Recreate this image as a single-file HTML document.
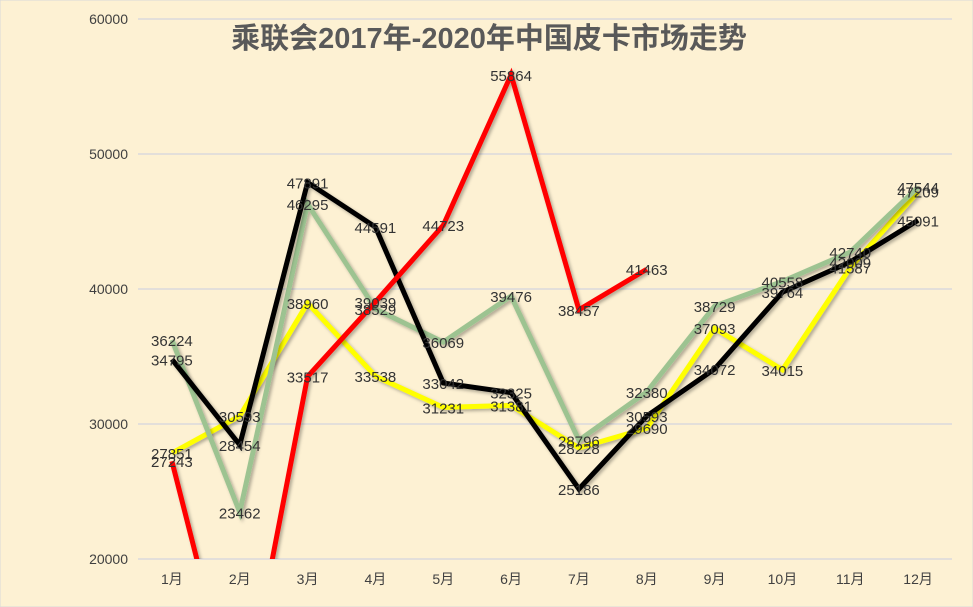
<!DOCTYPE html>
<html><head><meta charset="utf-8"><style>
html,body{margin:0;padding:0;background:#fff;width:973px;height:607px;overflow:hidden;}
svg{display:block;font-family:"Liberation Sans","Noto Sans CJK SC",sans-serif;}
</style></head><body>
<svg width="973" height="607">
<rect x="0" y="0" width="973" height="607" fill="#fdf1d3" stroke="#d9d9d9"/>
<text x="489" y="48" text-anchor="middle" font-size="29" font-weight="bold" fill="#595959">乘联会2017年-2020年中国皮卡市场走势</text>
<g id="grid"></g><g id="yaxis"></g><g id="xaxis"></g>
<defs><clipPath id="clip"><rect x="130" y="10" width="843" height="549"/></clipPath>
<filter id="sh"><feDropShadow dx="2" dy="2" stdDeviation="1.5" flood-color="#000" flood-opacity="0.3"/></filter></defs>
<g id="lines" clip-path="url(#clip)"></g><g id="labels"></g>
</svg>
<script>
const months=["1月","2月","3月","4月","5月","6月","7月","8月","9月","10月","11月","12月"];
const yTicks=[20000,30000,40000,50000,60000];
const s2017=[27851,30593,38960,33538,31231,31381,28228,29690,37093,34015,41587,47209];
const s2018=[36224,23462,46295,38529,36069,39476,28796,32380,38729,40558,42740,47544];
const s2019=[34795,28454,47891,44591,33042,32325,25186,30593,34072,39764,42009,45091];
const s2020=[27243,7500,33517,39039,44723,55864,38457,41463];
const s2020labels=[27243,null,33517,39039,44723,55864,38457,41463];
const NS="http://www.w3.org/2000/svg";
const L=138,R=952,T=19,B=559,ymin=20000,ymax=60000;
const x=i=>L+(R-L)/months.length*(i+0.5);
const y=v=>B-(v-ymin)/(ymax-ymin)*(B-T);
function mk(tag,attrs,parent){const e=document.createElementNS(NS,tag);for(const k in attrs)e.setAttribute(k,attrs[k]);document.getElementById(parent).appendChild(e);return e;}
yTicks.forEach(t=>{
 const g=mk('line',{x1:L,x2:R,y1:y(t),y2:y(t),stroke:'#c9cde0','stroke-width':1},'grid');
 
 
 const tx=mk('text',{x:128,y:y(t)+5,'text-anchor':'end','font-size':14,fill:'#404040'},'yaxis');
 tx.textContent=t;
 
 
});
months.forEach((m,i)=>{
 const tx=mk('text',{x:x(i),y:584,'text-anchor':'middle','font-size':14,fill:'#404040'},'xaxis');
 tx.textContent=m;
 
 
});
const series=[[s2017,'#ffff00',s2017,'series-2017'],[s2018,'#9dc391',s2018,'series-2018'],[s2019,'#000000',s2019,'series-2019'],[s2020,'#ff0000',s2020labels,'series-2020']];
series.forEach(([d,c,lab,name])=>{
 const p=mk('polyline',{points:d.map((v,i)=>x(i)+','+y(v)).join(' '),fill:'none',stroke:c,'stroke-width':5,'stroke-linejoin':'miter',filter:'url(#sh)'},'lines');
 
 
});
series.forEach(([d,c,lab,name])=>{
 lab.forEach((v,i)=>{ if(v==null)return;
  const tx=mk('text',{x:x(i),y:y(v)+6,'text-anchor':'middle','font-size':15,fill:'#333'},'labels');
  tx.textContent=v;
  
  
 });
});
</script>
</body></html>
